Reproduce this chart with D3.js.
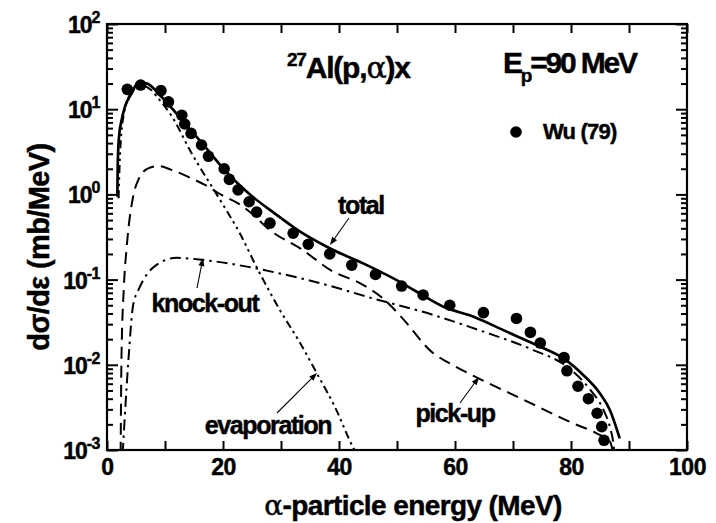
<!DOCTYPE html>
<html><head><meta charset="utf-8">
<script src="https://cdn.jsdelivr.net/npm/d3@7"></script>
<style>
body{margin:0;background:#fff}
text{font-family:Arial,"Liberation Sans",sans-serif;font-weight:bold;fill:#000;stroke:#000;stroke-width:0.45px}
</style>
</head><body><svg id="c" width="716" height="523"></svg>
<script>
// ---- data ----
const expE = [3.5, 5.8, 9.3, 10.6, 12.9, 13.4, 14.5, 16.3, 17.5, 20.2, 21.1, 22.6, 24.5, 25.8, 28.1, 32.1, 34.7, 38.4, 42.2, 46.3, 50.8, 54.5, 59.1, 64.9, 70.6, 73.0, 74.7, 78.8, 79.3, 81.2, 83.0, 84.5, 85.3, 85.7];
const expV = [17.1, 19.2, 16.5, 12.2, 8.5, 6.7, 5.2, 3.8, 2.8, 2.0, 1.5, 1.13, 0.82, 0.62, 0.46, 0.35, 0.26, 0.20, 0.148, 0.115, 0.084, 0.066, 0.050, 0.041, 0.035, 0.024, 0.018, 0.0122, 0.0085, 0.0056, 0.0040, 0.0027, 0.00188, 0.0013];

const totalE = [1.78, 1.85, 2.07, 2.53, 3.1, 4.26, 5.4, 6.8, 9.4, 12.9, 16.9, 20.3, 24.4, 28.9, 33.3, 38.4, 44.8, 50.5, 53.4, 58.0, 63.2, 68.9, 74.7, 78.7, 82.1, 85.0, 86.7, 88.4];
const totalV = [0.94, 2.2, 4.75, 7.5, 10.7, 15.4, 20.5, 20.1, 14, 7.5, 3.63, 1.93, 1.03, 0.60, 0.365, 0.233, 0.148, 0.094, 0.072, 0.048, 0.0367, 0.0245, 0.0163, 0.0119, 0.0076, 0.0046, 0.00295, 0.00137];

const evapE = [2.0, 2.3, 3.0, 4.0, 5.0, 6.0, 7.5, 9.0, 11.3, 14.3, 19.5, 22.9, 25.8, 29.8, 33.3, 36.2, 39.3, 42.5, 43.5];
const evapV = [0.9, 3.5, 9.5, 15, 18.5, 19, 17, 13, 8.0, 3.3, 0.86, 0.35, 0.14, 0.044, 0.018, 0.0079, 0.0032, 0.00105, 0.0008];

const pickE = [2.35, 2.5, 2.9, 3.4, 4.5, 5.4, 7.1, 8.8, 11.2, 14.6, 16.9, 19.8, 22.6, 24.9, 28.1, 33.3, 39.0, 43.6, 47.6, 50.5, 56.3, 59.1, 64.3, 71.8, 80.4, 84.4, 86.7, 87.3];
const pickV = [0.0009, 0.0126, 0.08, 0.243, 0.94, 1.48, 2.02, 2.15, 1.93, 1.54, 1.29, 0.98, 0.785, 0.6, 0.38, 0.233, 0.124, 0.091, 0.060, 0.038, 0.0136, 0.0104, 0.0068, 0.0039, 0.00205, 0.00157, 0.00126, 0.0009];

const knockE = [2.7, 3.7, 4.5, 5.4, 6.3, 8.6, 12.0, 16.6, 24.1, 29.8, 33.3, 37.9, 44.8, 56.3, 64.9, 73.5, 79.3, 83.3, 85.6, 86.7, 87.3, 87.5];
const knockV = [0.0009, 0.0115, 0.05, 0.075, 0.1, 0.15, 0.18, 0.17, 0.142, 0.118, 0.104, 0.0865, 0.063, 0.0384, 0.0245, 0.0149, 0.0095, 0.0051, 0.00295, 0.00187, 0.0012, 0.0009];

const xTicks = [0, 10, 20, 30, 40, 50, 60, 70, 80, 90, 100];
const xLabels = [0, 20, 40, 60, 80, 100];
const yExponents = [-3, -2, -1, 0, 1, 2];

// ---- layout ----
const L = 107, R = 687, T = 24, B = 450;
const svg = d3.select("#c");
const x = d3.scaleLinear().domain([0, 100]).range([L, R]);
const y = d3.scaleLog().domain([1e-3, 1e2]).range([B, T]);

svg.append("defs").append("clipPath").attr("id", "clip")
  .append("rect").attr("x", L).attr("y", T).attr("width", R - L).attr("height", B - T);

const yMajor = yExponents.map(e => Math.pow(10, e));
const yMinor = [];
yExponents.slice(0, -1).forEach(e => { for (let k = 2; k <= 9; k++) yMinor.push(k * Math.pow(10, e)); });

function styleAxis(g) {
  g.select(".domain").remove();
  g.selectAll(".tick line").attr("stroke", "#000").attr("stroke-width", 2);
}
svg.append("g").attr("transform", `translate(0,${B})`)
  .call(d3.axisBottom(x).tickValues(xTicks).tickSize(-9).tickPadding(9)
    .tickFormat(d => xLabels.includes(d) ? d : ""))
  .call(styleAxis)
  .call(g => g.selectAll(".tick text").attr("font-size", 23).attr("letter-spacing", -0.5)
    .attr("font-family", "Arial, 'Liberation Sans', sans-serif").attr("font-weight", "bold").attr("fill", "#000"));
svg.append("g").attr("transform", `translate(0,${T})`)
  .call(d3.axisTop(x).tickValues(xTicks).tickSize(-9).tickFormat(""))
  .call(styleAxis);
svg.append("g").attr("transform", `translate(${L},0)`)
  .call(d3.axisLeft(y).tickValues(yMajor).tickSize(-11).tickFormat("")).call(styleAxis);
svg.append("g").attr("transform", `translate(${L},0)`)
  .call(d3.axisLeft(y).tickValues(yMinor).tickSize(-6).tickFormat("")).call(styleAxis);
svg.append("g").attr("transform", `translate(${R},0)`)
  .call(d3.axisRight(y).tickValues(yMajor).tickSize(-11).tickFormat("")).call(styleAxis);
svg.append("g").attr("transform", `translate(${R},0)`)
  .call(d3.axisRight(y).tickValues(yMinor).tickSize(-6).tickFormat("")).call(styleAxis);

svg.append("rect").attr("x", L).attr("y", T).attr("width", R - L).attr("height", B - T)
  .attr("fill", "none").attr("stroke", "#000").attr("stroke-width", 2.2);

yExponents.forEach(e => {
  const t = svg.append("text").attr("x", 100).attr("y", y(Math.pow(10, e)) + 9)
    .attr("text-anchor", "end").attr("font-size", 23).attr("letter-spacing", -1);
  t.append("tspan").text("10");
  t.append("tspan").attr("font-size", 16).attr("dy", -10).attr("letter-spacing", -0.5).text(e < 0 ? "-" + (-e) : e);
});

const xt = svg.append("text").attr("x", 413).attr("y", 515).attr("text-anchor", "middle")
  .attr("font-size", 28).attr("letter-spacing", -0.6);
xt.append("tspan").attr("font-family", "'DejaVu Serif', serif").attr("font-weight", "normal").text("α");
xt.append("tspan").text("-particle energy (MeV)");

svg.append("text").attr("transform", "translate(49,247) rotate(-90)").attr("text-anchor", "middle")
  .attr("font-size", 29).attr("letter-spacing", -0.6).text("dσ/dε (mb/MeV)");

const line = d3.line().x(d => x(d[0])).y(d => y(d[1])).curve(d3.curveMonotoneX);
const cg = svg.append("g").attr("clip-path", "url(#clip)");
cg.append("path").datum(d3.zip(pickE, pickV)).attr("d", line).attr("fill", "none")
  .attr("stroke", "#000").attr("stroke-width", 2).attr("stroke-dasharray", "12,7");
cg.append("path").datum(d3.zip(knockE, knockV)).attr("d", line).attr("fill", "none")
  .attr("stroke", "#000").attr("stroke-width", 2).attr("stroke-dasharray", "11,5,2.5,5");
cg.append("path").datum(d3.zip(evapE, evapV)).attr("d", line).attr("fill", "none")
  .attr("stroke", "#000").attr("stroke-width", 2).attr("stroke-dasharray", "8,4,2.5,4,2.5,4");
cg.append("path").datum(d3.zip(totalE, totalV)).attr("d", line).attr("fill", "none")
  .attr("stroke", "#000").attr("stroke-width", 2.7);

cg.selectAll("circle.pt").data(d3.zip(expE, expV)).join("circle").attr("class", "pt")
  .attr("cx", d => x(d[0])).attr("cy", d => y(d[1])).attr("r", 5.8).attr("fill", "#000");

function arrow(x1, y1, x2, y2) {
  const a = Math.atan2(y2 - y1, x2 - x1), len = 8, w = 3;
  svg.append("line").attr("x1", x1).attr("y1", y1).attr("x2", x2 - Math.cos(a) * 4).attr("y2", y2 - Math.sin(a) * 4)
    .attr("stroke", "#000").attr("stroke-width", 1.1);
  const bx = x2 - Math.cos(a) * len, by = y2 - Math.sin(a) * len;
  svg.append("path").attr("d", `M${x2},${y2}L${bx - Math.sin(a) * w},${by + Math.cos(a) * w}L${bx + Math.sin(a) * w},${by - Math.cos(a) * w}Z`)
    .attr("fill", "#000");
}
function label(tx, ty, s) {
  svg.append("text").attr("x", tx).attr("y", ty).attr("text-anchor", "middle")
    .attr("font-size", 25).attr("letter-spacing", -1.4).text(s);
}
label(361, 214, "total"); arrow(349, 218, 330, 245);
label(205, 312, "knock-out"); arrow(197, 288, 203, 258);
label(268, 434, "evaporation"); arrow(277, 413, 317, 373);
label(455, 422, "pick-up"); arrow(460, 403, 479, 377);

const tt = svg.append("text").attr("x", 287).attr("y", 78).attr("font-size", 30).attr("letter-spacing", -1.2);
tt.append("tspan").attr("font-size", 19).attr("dy", -12).text("27");
tt.append("tspan").attr("dy", 12).text("Al(p,");
tt.append("tspan").attr("font-family", "'DejaVu Serif', serif").attr("font-weight", "normal").text("α");
tt.append("tspan").text(")x");

const ep = svg.append("text").attr("x", 503).attr("y", 73).attr("font-size", 30).attr("letter-spacing", -2.2);
ep.append("tspan").text("E");
ep.append("tspan").attr("font-size", 19).attr("dy", 9).text("p");
ep.append("tspan").attr("dy", -9).text("=90 MeV");

svg.append("circle").attr("cx", 516).attr("cy", 132).attr("r", 5.8).attr("fill", "#000");
svg.append("text").attr("x", 543).attr("y", 139).attr("font-size", 22).attr("letter-spacing", -0.8).text("Wu (79)");
</script>
</body></html>
